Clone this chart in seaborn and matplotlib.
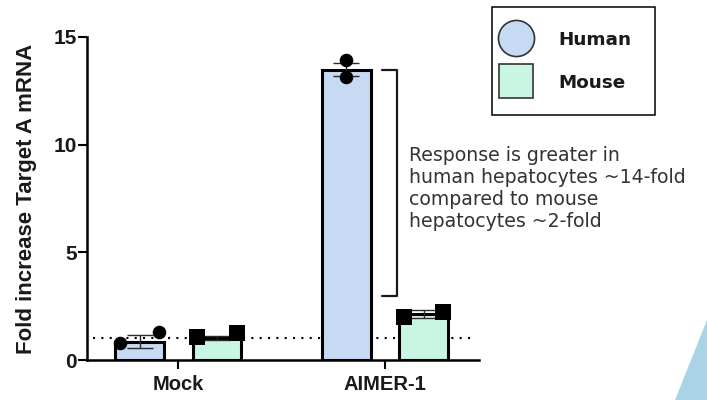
import matplotlib
matplotlib.use("Agg")
import numpy as np
import pandas as pd
import seaborn as sns
import matplotlib.pyplot as plt
from matplotlib.lines import Line2D
from matplotlib.patches import Polygon, PathPatch
from matplotlib.path import Path

# ---- data ----
categories = ["Mock", "AIMER-1"]
species = ["Human", "Mouse"]
mean_human = [0.85, 13.47]
mean_mouse = [1.02, 2.12]
sem_human = [0.30, 0.30]
sem_mouse = [0.08, 0.18]
reps_human = [[0.80, 1.30], [13.93, 13.12]]
reps_mouse = [[1.07, 1.25], [2.00, 2.22]]
y_ticks = [0, 5, 10, 15]
baseline = 1.0
bracket_top = 13.47
bracket_bottom = 2.97
note = ("Response is greater in\n"
        "human hepatocytes ~14-fold\n"
        "compared to mouse\n"
        "hepatocytes ~2-fold")

palette = {"Human": "#C6DAF4", "Mouse": "#C9F5E3"}
markers = {"Human": "o", "Mouse": "s"}
marker_area = {"Human": 95, "Mouse": 130}

sns.set_theme(style="ticks")
plt.rcParams["font.family"] = ["Liberation Sans", "DejaVu Sans"]

fig = plt.figure(figsize=(7.07, 4.0), dpi=100)
ax = fig.add_axes([0.123, 0.1, 0.5545, 0.8075])

df = pd.DataFrame({
    "Treatment": categories * 2,
    "Species": ["Human"] * len(categories) + ["Mouse"] * len(categories),
    "Fold": mean_human + mean_mouse,
})

# dotted reference line at fold = 1
ax.axhline(baseline, xmin=0.015, xmax=0.99, color="black", lw=1.5,
           ls=(0, (1, 3)), zorder=0.5)

sns.barplot(data=df, x="Treatment", y="Fold", hue="Species",
            order=categories, hue_order=species, palette=palette,
            saturation=1, width=0.75, gap=0.37, edgecolor="black",
            linewidth=2.2, errorbar=None, legend=False, ax=ax)

means = {"Human": mean_human, "Mouse": mean_mouse}
sems = {"Human": sem_human, "Mouse": sem_mouse}
reps = {"Human": reps_human, "Mouse": reps_mouse}

for container, sp in zip(ax.containers, species):
    centers = [b.get_x() + b.get_width() / 2 for b in container]
    ax.errorbar(centers, means[sp], yerr=sems[sp], fmt="none",
                ecolor="#2b2b2b", elinewidth=1.0, capsize=9.7,
                capthick=1.0, zorder=3)
    rows = []
    for cx, vals in zip(centers, reps[sp]):
        vals = sorted(vals)
        # replicates that would overlap are spread to the bar edges
        spread = 0.095 if (vals[-1] - vals[0]) < 0.6 else 0.0
        offs = np.linspace(-spread, spread, len(vals))
        for o, v in zip(offs, vals):
            rows.append({"x": cx + o, "Fold": v})
    sns.scatterplot(data=pd.DataFrame(rows), x="x", y="Fold",
                    marker=markers[sp], s=marker_area[sp], color="black",
                    linewidth=0, legend=False, zorder=4, ax=ax)

ax.set_xlim(-0.442, 1.455)
ax.set_ylim(0, 15)
ax.set_yticks(y_ticks)
ax.set_xticks(range(len(categories)))
ax.set_xticklabels(categories)
sns.despine(ax=ax)
for s in ("left", "bottom"):
    ax.spines[s].set_linewidth(1.8)
    ax.spines[s].set_color("black")
ax.tick_params(axis="both", length=6.5, width=1.5, color="black",
               labelcolor="#1a1a1a")
ax.tick_params(axis="y", labelsize=15, pad=1)
ax.tick_params(axis="x", labelsize=14.5, pad=4)
for lbl in ax.get_xticklabels() + ax.get_yticklabels():
    lbl.set_fontweight("bold")
ax.set_xlabel("")
ax.set_ylabel("Fold increase Target A mRNA", fontsize=16,
              fontweight="bold", color="#1a1a1a")
ax.yaxis.set_label_coords(-0.128, 0.5)

# bracket linking the human and mouse responses
path = Path([(0.988, bracket_top), (1.056, bracket_top),
             (1.056, bracket_bottom), (0.988, bracket_bottom)])
ax.add_patch(PathPatch(path, fill=False, lw=1.6, edgecolor="#1a1a1a",
                       joinstyle="round", capstyle="round", clip_on=False))

ax.text(1.118, 7.95, note, ha="left", va="center", fontsize=13.6,
        color="#333333", family="DejaVu Sans", linespacing=1.2)

handles = [
    Line2D([], [], ls="none", marker="o", markersize=26,
           markerfacecolor=palette["Human"], markeredgecolor="#333333",
           markeredgewidth=1.2),
    Line2D([], [], ls="none", marker="s", markersize=24.5,
           markerfacecolor=palette["Mouse"], markeredgecolor="#333333",
           markeredgewidth=1.2),
]
leg = fig.legend(handles, species, loc="upper left",
                 bbox_to_anchor=(0.696, 0.9825), frameon=True,
                 fancybox=False, edgecolor="black", framealpha=1,
                 prop={"family": "DejaVu Sans", "weight": "bold", "size": 13.2},
                 handlelength=0, handletextpad=2.3, borderpad=1.3,
                 labelspacing=1.35, borderaxespad=0)
leg.get_frame().set_linewidth(1.1)
for t in leg.get_texts():
    t.set_color("#1a1a1a")

# corner decoration
fig.patches.append(Polygon([(1.0, 0.2), (1.0, 0.0), (0.955, 0.0)],
                           closed=True, transform=fig.transFigure,
                           facecolor="#A9D4E6", edgecolor="none"))

fig.savefig("out.png", dpi=100)
